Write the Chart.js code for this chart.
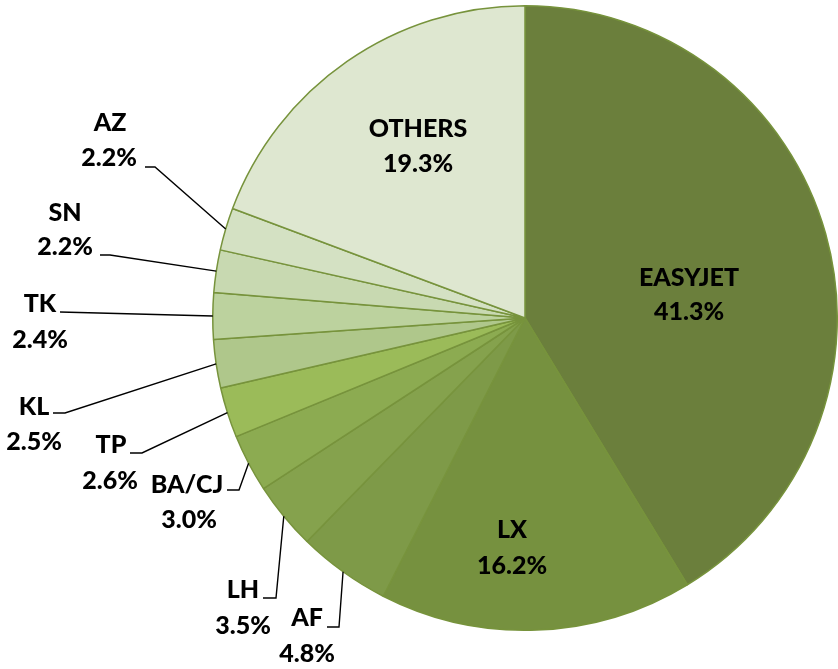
<!DOCTYPE html>
<html>
<head>
<meta charset="utf-8">
<script src="https://cdn.jsdelivr.net/npm/chart.js@4.4.1/dist/chart.umd.min.js"></script>
<style>
  html, body { margin: 0; padding: 0; background: #fff; }
  #wrap { width: 838px; height: 669px; }
</style>
</head>
<body>
<div id="wrap"><canvas id="pie" width="838" height="669"></canvas></div>
<script>
// airlines, clockwise from 12 o'clock
const carriers = ['EASYJET', 'LX', 'AF', 'LH', 'BA/CJ', 'TP', 'KL', 'TK', 'SN', 'AZ', 'OTHERS'];
const shares = [41.3, 16.2, 4.8, 3.5, 3.0, 2.6, 2.5, 2.4, 2.2, 2.2, 19.3];
const sliceColors = [
    '#6B7F3C', '#76913F', '#7E9A48', '#85A24D', '#8CAB51', '#9BBB59',
    '#AFC78B', '#BCD29E', '#C8D9B1', '#D4E1C3', '#DEE7D0'
];

// where each label sits: text centre x, line y's, and optional leader elbow
const labelLayout = [
    { x: 689, y1: 278, y2: 312 },
    { x: 512, y1: 530, y2: 566 },
    { x: 307, y1: 618, y2: 654, elbow: [327, 339, 627] },
    { x: 243, y1: 590, y2: 626, elbow: [263, 276, 598] },
    { x: 187, x2: 189, y1: 485, y2: 520, elbow: [227, 239, 490] },
    { x: 111, x2: 110, y1: 445, y2: 481, elbow: [130, 142, 453] },
    { x: 34, y1: 407, y2: 442, elbow: [53, 65, 413] },
    { x: 40, y1: 304, y2: 340, elbow: [60, 60, 312] },
    { x: 65, y1: 213, y2: 247, elbow: [100, 110, 255] },
    { x: 110, x2: 109, y1: 123, y2: 158, elbow: [145, 155, 167] },
    { x: 418, y1: 129, y2: 164 }
];

const pieLabels = {
    id: 'pieLabels',
    afterDatasetsDraw(chart) {
        const ctx = chart.ctx;
        const meta = chart.getDatasetMeta(0);
        ctx.save();
        meta.data.forEach((arc, i) => {
            const lay = labelLayout[i];
            if (lay.elbow) {
                const mid = (arc.startAngle + arc.endAngle) / 2;
                const ex = arc.x + arc.outerRadius * Math.cos(mid);
                const ey = arc.y + arc.outerRadius * Math.sin(mid);
                ctx.beginPath();
                ctx.strokeStyle = '#000';
                ctx.lineWidth = 1.4;
                ctx.moveTo(lay.elbow[0], lay.elbow[2]);
                ctx.lineTo(lay.elbow[1], lay.elbow[2]);
                ctx.lineTo(ex, ey);
                ctx.stroke();
            }
            ctx.fillStyle = '#000';
            ctx.font = '900 25px Lato';
            ctx.textAlign = 'center';
            ctx.textBaseline = 'middle';
            ctx.fillText(carriers[i], lay.x, lay.y1);
            ctx.fillText(shares[i].toFixed(1) + '%', lay.x2 || lay.x, lay.y2);
        });
        ctx.restore();
    }
};

const ctx = document.getElementById('pie').getContext('2d');
let pieChart = new Chart(ctx, {
    type: 'pie',
    data: {
        labels: carriers,
        datasets: [{
            data: shares,
            backgroundColor: sliceColors,
            borderColor: '#77933C',
            borderWidth: 1.5
        }]
    },
    options: {
        responsive: false,
        animation: false,
        layout: {
            padding: { left: 212, right: 0, top: 5, bottom: 38 }
        },
        plugins: {
            legend: { display: false },
            tooltip: { enabled: false }
        }
    },
    plugins: [pieLabels]
});
</script>
</body>
</html>
